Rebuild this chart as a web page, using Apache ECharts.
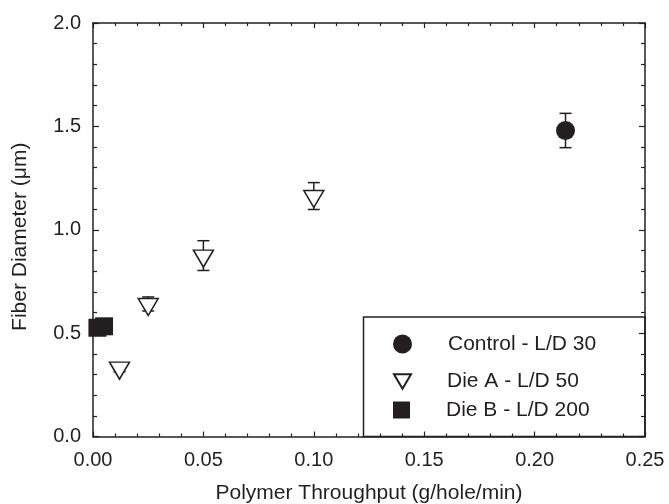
<!DOCTYPE html>
<html>
<head>
<meta charset="utf-8">
<script src="https://cdn.jsdelivr.net/npm/echarts@6/dist/echarts.min.js"></script>
<style>
  html, body { margin: 0; padding: 0; background: #fff; }
  #chart { width: 669px; height: 504px; }
</style>
</head>
<body>
<div id="chart"></div>
<script>
// Fiber diameter vs. polymer throughput for three die geometries
const xTicks = [0, 0.05, 0.10, 0.15, 0.20, 0.25];
const yTicks = [0, 0.5, 1.0, 1.5, 2.0];

const controlName = 'Control - L/D 30';
const controlX = [0.214];
const controlY = [1.48];
const controlErr = [0.083];

const dieAName = 'Die A - L/D 50';
const dieAX = [0.012, 0.025, 0.05, 0.10];
const dieAY = [0.333, 0.641, 0.875, 1.163];
const dieAErr = [0.02, 0.034, 0.072, 0.065];

const dieBName = 'Die B - L/D 200';
const dieBX = [0.002, 0.005];
const dieBY = [0.526, 0.533];

const INK = '#231f20';
const FONT = 'Liberation Sans, Arial, Helvetica, sans-serif';

const pairs = (xs, ys) => xs.map((x, i) => [x, ys[i]]);
const errRows = (xs, ys, es) => xs.map((x, i) => [x, ys[i], es[i]]);

function errorBars(params, api) {
  const x = api.value(0), y = api.value(1), e = api.value(2);
  const hi = api.coord([x, y + e]);
  const lo = api.coord([x, y - e]);
  const cap = 6;
  const style = { stroke: INK, lineWidth: 1.5 };
  return {
    type: 'group',
    children: [
      { type: 'line', shape: { x1: hi[0], y1: hi[1], x2: lo[0], y2: lo[1] }, style },
      { type: 'line', shape: { x1: hi[0] - cap, y1: hi[1], x2: hi[0] + cap, y2: hi[1] }, style },
      { type: 'line', shape: { x1: lo[0] - cap, y1: lo[1], x2: lo[0] + cap, y2: lo[1] }, style }
    ]
  };
}

const axisLine = { show: true, onZero: false, lineStyle: { color: INK, width: 1.5 } };

function xAxisCfg(pos, labels) {
  return {
    type: 'value', position: pos,
    min: xTicks[0], max: xTicks[xTicks.length - 1], interval: 0.05,
    axisLine,
    axisTick: { show: true, inside: true, length: 5, lineStyle: { color: INK, width: 1.2 } },
    minorTick: { show: true, splitNumber: 5, length: 3, lineStyle: { color: INK, width: 1.2 } },
    splitLine: { show: false },
    axisLabel: {
      show: labels, margin: 14, color: INK, fontFamily: FONT, fontSize: 20,
      formatter: v => v.toFixed(2)
    },
    name: labels ? 'Polymer Throughput (g/hole/min)' : '',
    nameLocation: 'middle', nameGap: 46,
    nameTextStyle: { color: INK, fontFamily: FONT, fontSize: 21 }
  };
}

function yAxisCfg(pos, labels) {
  return {
    type: 'value', position: pos,
    min: yTicks[0], max: yTicks[yTicks.length - 1], interval: 0.5,
    axisLine,
    axisTick: { show: true, inside: true, length: 6, lineStyle: { color: INK, width: 1.2 } },
    minorTick: { show: true, splitNumber: 5, length: 4, lineStyle: { color: INK, width: 1.2 } },
    splitLine: { show: false },
    axisLabel: {
      show: labels, margin: 12, color: INK, fontFamily: FONT, fontSize: 20,
      formatter: v => v.toFixed(1)
    },
    name: labels ? 'Fiber Diameter (\u03bcm)' : '',
    nameLocation: 'middle', nameGap: 62, nameRotate: 90,
    nameTextStyle: { color: INK, fontFamily: FONT, fontSize: 21, padding: [0, 14, 0, 0] }
  };
}

function legendRow(name, top, size) {
  return {
    data: [name], left: 393, top, padding: 0, orient: 'vertical',
    itemWidth: size, itemHeight: size, selectedMode: false,
    textStyle: { color: INK, fontFamily: FONT, fontSize: 21, padding: [0, 0, 0, 31] }
  };
}

const triangleDown = 'path://M0,0L20,0L10,17Z';

const chart = echarts.init(document.getElementById('chart'), null, { renderer: 'canvas' });
chart.setOption({
  animation: false,
  backgroundColor: '#fff',
  grid: { left: 93, right: 24, top: 23, bottom: 67.5, outerBoundsMode: 'none' },
  xAxis: [xAxisCfg('bottom', true), xAxisCfg('top', false)],
  yAxis: [yAxisCfg('left', true), yAxisCfg('right', false)],
  legend: [
    legendRow(controlName, 333.5, 19),
    legendRow(dieAName, 371, 17),
    legendRow(dieBName, 399.5, 17)
  ],
  graphic: [{
    type: 'rect', z: 10,
    shape: { x: 363.5, y: 317, width: 281.5, height: 119.5 },
    style: { fill: 'rgba(0,0,0,0)', stroke: INK, lineWidth: 1.5 }
  }],
  series: [
    {
      type: 'custom', name: 'ctrlErr', z: 1,
      renderItem: errorBars, data: errRows(controlX, controlY, controlErr)
    },
    {
      type: 'custom', name: 'dieAErr', z: 1,
      renderItem: errorBars, data: errRows(dieAX, dieAY, dieAErr)
    },
    {
      type: 'scatter', name: controlName, z: 3,
      symbol: 'circle', symbolSize: 19,
      itemStyle: { color: INK, opacity: 1 },
      data: pairs(controlX, controlY)
    },
    {
      type: 'scatter', name: dieAName, z: 3,
      symbol: triangleDown, symbolSize: [20, 17], symbolOffset: [0, 3],
      itemStyle: { color: '#fff', borderColor: INK, borderWidth: 1.5, opacity: 1 },
      data: pairs(dieAX, dieAY)
    },
    {
      type: 'scatter', name: dieBName, z: 3,
      symbol: 'rect', symbolSize: 18,
      itemStyle: { color: INK, opacity: 1 },
      data: pairs(dieBX, dieBY)
    }
  ]
});
</script>
</body>
</html>
